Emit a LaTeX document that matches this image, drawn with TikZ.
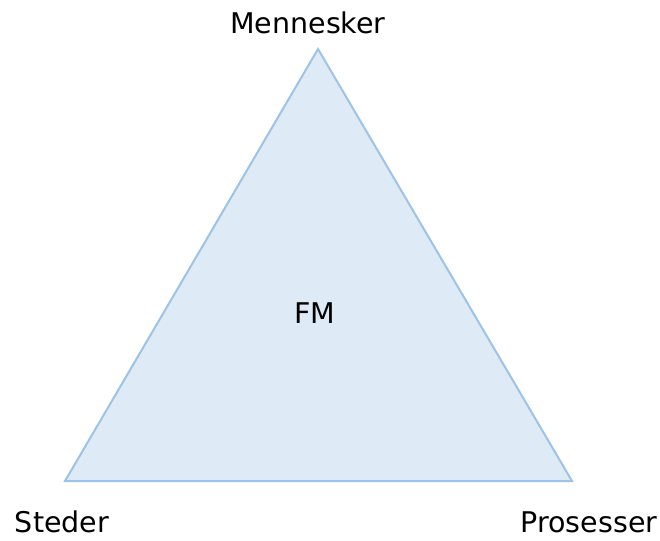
\documentclass[tikz,border=0pt]{standalone}
\usepackage{fontspec}
\setmainfont{DejaVu Sans}
\definecolor{triline}{HTML}{9DC3E6}
\definecolor{trifill}{HTML}{DEEBF7}
\begin{document}
\begin{tikzpicture}[x=1pt,y=-1pt,
  corner/.style={inner sep=0pt,anchor=base,font=\fontsize{28.5}{34}\selectfont}]
\useasboundingbox (0,0) rectangle (660,540);
% corners of the triangle
\coordinate (top) at (318,49);
\coordinate (left) at (65,481);
\coordinate (right) at (572,481);
\filldraw[draw=triline,fill=trifill,line width=2pt,line join=miter]
  (top) -- (right) -- (left) -- cycle;
% labels
\node[corner] (mennesker) at (308,34) {Mennesker};
\node[corner] (steder) at (62,532) {Steder};
\node[corner] (prosesser) at (589,532) {Prosesser};
\node[corner] (fm) at (315,323) {FM};
\end{tikzpicture}
\end{document}
